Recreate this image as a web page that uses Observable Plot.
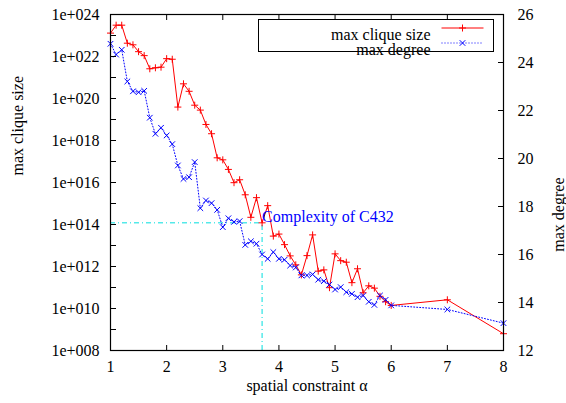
<!DOCTYPE html>
<html><head><meta charset="utf-8">
<script src="https://cdn.jsdelivr.net/npm/d3@7"></script>
<script src="https://cdn.jsdelivr.net/npm/@observablehq/plot@0.6"></script>
<style>html,body{margin:0;padding:0;background:#fff;}</style>
</head><body><div id="chart"></div>
<script>
// ---- data ----
const alpha = [1.0,1.1,1.2,1.3,1.4,1.5,1.6,1.7,1.8,1.9,
               2.0,2.1,2.2,2.3,2.4,2.5,2.6,2.7,2.8,2.9,
               3.0,3.1,3.2,3.3,3.4,3.5,3.6,3.7,3.8,3.9,
               4.0,4.1,4.2,4.3,4.4,4.5,4.6,4.7,4.8,4.9,
               5.0,5.1,5.2,5.3,5.4,5.5,5.6,5.7,5.8,5.9,
               6.0,7.0,8.0];
const maxCliqueSize = [1.3e23,3.1e23,3.1e23,4.3e22,3.6e22,1.7e22,1.1e22,2.6e21,2.9e21,3.1e21,
                       7.9e21,7.4e21,3.9e19,5.0e20,2.2e20,4.8e19,2.8e19,5.8e18,2.1e18,1.5e17,
                       1.2e17,4.2e16,9.8e15,1.35e16,2.6e15,2.2e14,1.9e15,1.2e14,7.9e14,2.8e13,
                       3.5e13,1.1e13,3.2e12,1.2e12,4.0e11,3.3e12,3.2e13,6.0e11,6.9e11,9.8e10,
                       4.0e12,1.9e12,1.6e12,1.7e11,7.8e11,5.6e10,1.2e11,9.3e10,3.8e10,2.1e10,
                       1.4e10,2.6e10,6.3e8];
const maxDegree = [24.78,24.33,24.53,23.21,22.80,22.76,22.82,21.70,21.03,21.28,
                   20.96,20.60,19.71,19.15,19.22,19.85,17.93,18.25,18.14,17.86,
                   17.14,17.51,17.36,17.39,16.40,16.55,16.45,16.00,15.82,16.10,
                   15.82,15.78,15.54,15.46,15.13,15.13,15.17,14.95,14.89,14.75,
                   14.54,14.64,14.43,14.36,14.22,14.29,14.03,13.90,14.29,14.11,
                   13.88,13.71,13.14];
const xDomain = [1, 8];
const xTicks = [1,2,3,4,5,6,7,8];
const leftDomain = [1e8, 1e24];
const leftTicks = [1e8,1e9,1e10,1e11,1e12,1e13,1e14,1e15,1e16,1e17,1e18,1e19,1e20,1e21,1e22,1e23,1e24];
const leftLabels = [1e8,1e10,1e12,1e14,1e16,1e18,1e20,1e22,1e24];
const rightDomain = [12, 26];
const rightTicks = [12,14,16,18,20,22,24,26];
const seriesNames = ["max clique size", "max degree"];
const annotationAlpha = 3.7;
const annotationText = "Complexity of C432";

// ---- secondary (right) axis mapping onto the left log scale ----
const L0 = Math.log10(leftDomain[0]), L1 = Math.log10(leftDomain[1]);
const deg2left = d => 10 ** (L0 + (d - rightDomain[0]) * (L1 - L0) / (rightDomain[1] - rightDomain[0]));
const left2deg = v => rightDomain[0] + (Math.log10(v) - L0) * (rightDomain[1] - rightDomain[0]) / (L1 - L0);

const red = alpha.map((a, i) => ({a, v: maxCliqueSize[i]}));
const blue = alpha.map((a, i) => ({a, v: deg2left(maxDegree[i])}));
const annY = maxCliqueSize[alpha.indexOf(annotationAlpha)];

const plusSym = {draw(c, s) {const r = Math.sqrt(s / Math.PI); c.moveTo(-r, 0); c.lineTo(r, 0); c.moveTo(0, -r); c.lineTo(0, r);}};
const timesSym = {draw(c, s) {const r = Math.sqrt(s / Math.PI); c.moveTo(-r, -r); c.lineTo(r, r); c.moveTo(-r, r); c.lineTo(r, -r);}};
const hlineSym = {draw(c, s) {const r = Math.sqrt(s / Math.PI); c.moveTo(-r, 0); c.lineTo(r, 0);}};

const expFmt = v => { const e = Math.round(Math.log10(v)); return "1e+" + String(e).padStart(3, "0"); };
const RED = "#ff0000", BLUE = "#0000ff", CYAN = "#00dede";

const chart = Plot.plot({
  width: 566, height: 403,
  marginLeft: 110, marginRight: 63, marginTop: 14, marginBottom: 53,
  style: "font-family: 'Liberation Serif', 'Times New Roman', serif; font-size: 16px; background: #fff; color: #000;",
  x: {domain: xDomain},
  y: {type: "log", domain: leftDomain},
  marks: [
    // annotation guides
    Plot.ruleY([annY], {x1: xDomain[0], x2: annotationAlpha, stroke: CYAN, strokeWidth: 1, strokeDasharray: "5,3,1,3"}),
    Plot.ruleX([annotationAlpha], {y1: leftDomain[0], y2: annY, stroke: CYAN, strokeWidth: 1, strokeDasharray: "5,3,1,3"}),
    // series
    Plot.line(red, {x: "a", y: "v", stroke: RED, strokeWidth: 1}),
    Plot.dot(red, {x: "a", y: "v", symbol: plusSym, r: 3.5, stroke: RED, strokeWidth: 1}),
    Plot.line(blue, {x: "a", y: "v", stroke: BLUE, strokeWidth: 1, strokeDasharray: "1,2"}),
    Plot.dot(blue, {x: "a", y: "v", symbol: timesSym, r: 2.8, stroke: BLUE, strokeWidth: 1}),
    Plot.text([annotationText], {x: () => annotationAlpha, y: () => annY, text: d => d, textAnchor: "start", dx: 0, dy: -6, fill: BLUE, fontSize: 16}),
    // axes
    Plot.axisX(xTicks, {anchor: "bottom", tickSize: -5, tickPadding: 15.5, label: null, tickFormat: d => String(d)}),
    Plot.axisX(xTicks, {anchor: "top", tickSize: -5, label: null, tickFormat: () => ""}),
    Plot.axisY(leftTicks, {anchor: "left", tickSize: -6, label: null, tickFormat: () => ""}),
    Plot.axisY(leftLabels, {anchor: "left", tickSize: 0, tickPadding: 11, label: null, tickFormat: expFmt}),
    Plot.axisY(rightTicks.map(deg2left), {anchor: "right", tickSize: -6, tickPadding: 20, label: null, tickFormat: v => String(Math.round(left2deg(v)))}),
    Plot.frame({stroke: "#000", strokeWidth: 1.2}),
    // axis titles
    Plot.text(["max clique size"], {frameAnchor: "left", dx: -93, dy: -7, rotate: -90, text: d => d}),
    Plot.text(["max degree"], {frameAnchor: "right", dx: 55, dy: -5, rotate: -90, text: d => d}),
    Plot.text(["spatial constraint α"], {frameAnchor: "bottom", dy: 40, text: d => d}),
    // legend
    Plot.frame({insetLeft: 148, insetRight: 10, insetTop: 5, insetBottom: 299, stroke: "#000", strokeWidth: 1, fill: "#fff"}),
    Plot.text([seriesNames[0]], {frameAnchor: "top-left", dx: 320, dy: 14, textAnchor: "end", text: d => d}),
    Plot.text([seriesNames[1]], {frameAnchor: "top-left", dx: 320, dy: 29, textAnchor: "end", text: d => d}),
    Plot.dot([0], {frameAnchor: "top-left", dx: 352, dy: 13.5, symbol: hlineSym, r: 21, stroke: RED, strokeWidth: 1}),
    Plot.dot([0], {frameAnchor: "top-left", dx: 352, dy: 13.5, symbol: plusSym, r: 3.5, stroke: RED, strokeWidth: 1}),
    Plot.dot([0], {frameAnchor: "top-left", dx: 352, dy: 28.5, symbol: hlineSym, r: 21, stroke: BLUE, strokeWidth: 1, strokeDasharray: "1,2"}),
    Plot.dot([0], {frameAnchor: "top-left", dx: 352, dy: 28.5, symbol: timesSym, r: 2.8, stroke: BLUE, strokeWidth: 1})
  ]
});
document.getElementById("chart").appendChild(chart);
</script>
</body></html>
